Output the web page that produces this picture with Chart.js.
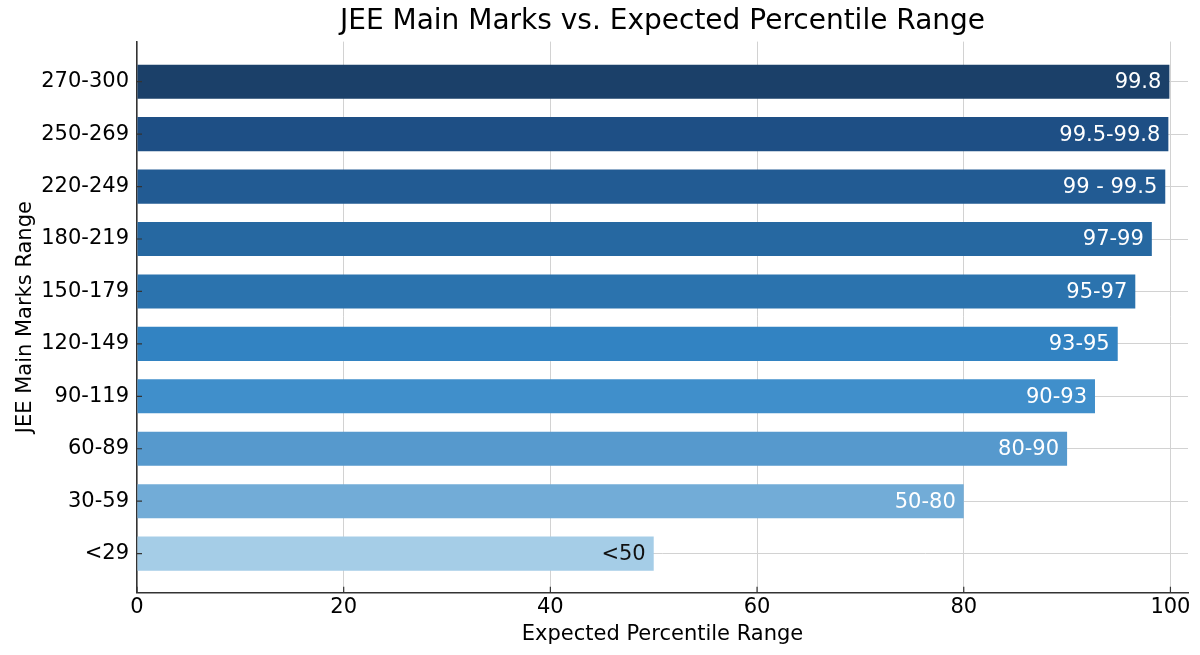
<!DOCTYPE html>
<html>
<head>
<meta charset="utf-8">
<script src="https://cdn.jsdelivr.net/npm/chart.js@4.4.1/dist/chart.umd.min.js"></script>
<style>
  html, body { margin: 0; padding: 0; background: #fff; }
</style>
</head>
<body>
<canvas id="grafico" width="1200" height="655"></canvas>
<script>
// data
const categories = ["270-300", "250-269", "220-249", "180-219", "150-179", "120-149", "90-119", "60-89", "30-59", "<29"];
const percentiles = [99.9, 99.8, 99.5, 98.2, 96.6, 94.9, 92.7, 90, 80, 50];
const barLabels = ["99.8", "99.5-99.8", "99 - 99.5", "97-99", "95-97", "93-95", "90-93", "80-90", "50-80", "<50"];
const xTicks = [0, 20, 40, 60, 80, 100];

const barColors = ["#1b4069", "#1e4f85", "#225b93", "#2668a1", "#2b73ae", "#3283c2", "#408fcb", "#5699cd", "#72acd7", "#a5cde7"];
const FONT = "'DejaVu Sans', sans-serif";

Chart.defaults.font.family = FONT;
Chart.defaults.color = "#000";

// text at the end of each bar
const valueLabels = {
  id: "valueLabels",
  afterDatasetsDraw(chart) {
    const ctx = chart.ctx;
    const meta = chart.getDatasetMeta(0);
    ctx.save();
    ctx.font = "21px " + FONT;
    ctx.textAlign = "right";
    ctx.textBaseline = "middle";
    meta.data.forEach((bar, i) => {
      ctx.fillStyle = i === percentiles.length - 1 ? "#111" : "#fff";
      ctx.fillText(barLabels[i], bar.x - 8, bar.y + 1);
    });
    ctx.restore();
  }
};

// small tick marks pointing into the plot
const inwardTicks = {
  id: "inwardTicks",
  afterDraw(chart) {
    const { ctx, chartArea, scales } = chart;
    ctx.save();
    ctx.strokeStyle = "#333";
    ctx.lineWidth = 1.2;
    ctx.beginPath();
    scales.y.ticks.forEach(t => {
      const py = scales.y.getPixelForValue(t.value);
      ctx.moveTo(chartArea.left, py);
      ctx.lineTo(chartArea.left + 5, py);
    });
    scales.x.ticks.forEach(t => {
      const px = scales.x.getPixelForValue(t.value);
      ctx.moveTo(px, chartArea.bottom);
      ctx.lineTo(px, chartArea.bottom - 6);
    });
    ctx.stroke();
    ctx.restore();
  }
};

new Chart(document.getElementById("grafico"), {
  type: "bar",
  data: {
    datasets: [{
      data: categories.map((c, i) => ({ x: percentiles[i], y: i })),
      backgroundColor: barColors,
      categoryPercentage: 1,
      barPercentage: 0.65
    }]
  },
  options: {
    responsive: false,
    animation: false,
    indexAxis: "y",
    layout: { padding: { left: 6, right: 12, bottom: 0, top: 0 } },
    plugins: {
      legend: { display: false },
      tooltip: { enabled: false },
      title: {
        display: true,
        fullSize: false,
        text: "JEE Main Marks vs. Expected Percentile Range",
        font: { size: 28, weight: "normal" },
        color: "#000",
        padding: { top: 5, bottom: 3 }
      }
    },
    scales: {
      x: {
        type: "linear",
        min: 0,
        max: 101.7,
        afterBuildTicks: s => { s.ticks = xTicks.map(v => ({ value: v })); },
        ticks: { font: { size: 21, lineHeight: 1.1 }, color: "#000", padding: 3 },
        grid: { color: "#d2d2d2", drawTicks: false },
        border: { color: "#333", width: 1.5 },
        title: {
          display: true,
          text: "Expected Percentile Range",
          font: { size: 21 },
          color: "#000",
          padding: { top: 0, bottom: 8 }
        }
      },
      y: {
        type: "linear",
        reverse: true,
        offset: false,
        min: -0.765,
        max: 9.745,
        afterBuildTicks: s => { s.ticks = categories.map((c, i) => ({ value: i })); },
        afterFit: s => { s.width = 131; },
        ticks: { font: { size: 21 }, color: "#000", padding: 8, callback: v => categories[v] },
        grid: { color: "#d2d2d2", drawTicks: false, offset: false },
        border: { color: "#333", width: 1.5 },
        title: {
          display: true,
          text: "JEE Main Marks Range",
          font: { size: 21 },
          color: "#000",
          padding: { top: 7, bottom: 3 }
        }
      }
    }
  },
  plugins: [valueLabels, inwardTicks]
});
</script>
</body>
</html>
